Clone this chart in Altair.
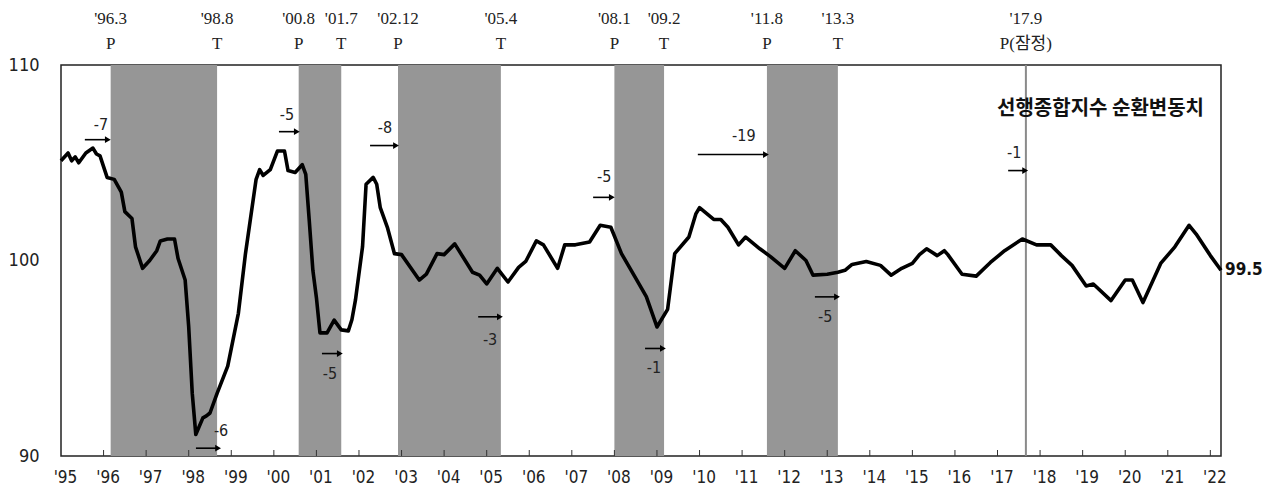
import altair as alt
import pandas as pd

# ---------------- data ----------------
dates = [
    "1995-01", "1995-03", "1995-04", "1995-05", "1995-06", "1995-08", "1995-10", "1995-11", "1995-12",
    "1996-02", "1996-04", "1996-06", "1996-07", "1996-09", "1996-10", "1996-12",
    "1997-02", "1997-04", "1997-05", "1997-07", "1997-09", "1997-10", "1997-12",
    "1998-01", "1998-02", "1998-03", "1998-05", "1998-06", "1998-07", "1998-09", "1998-12",
    "1999-03", "1999-05", "1999-08", "1999-09", "1999-10", "1999-12",
    "2000-02", "2000-04", "2000-05", "2000-07", "2000-09", "2000-10", "2000-11", "2000-12",
    "2001-01", "2001-02", "2001-04", "2001-06", "2001-08", "2001-10", "2001-11", "2001-12",
    "2002-02", "2002-03", "2002-05", "2002-06", "2002-07", "2002-09", "2002-11",
    "2003-01", "2003-06", "2003-08", "2003-11",
    "2004-01", "2004-04", "2004-09", "2004-11",
    "2005-01", "2005-04", "2005-07", "2005-10", "2005-12",
    "2006-03", "2006-05", "2006-09", "2006-11",
    "2007-02", "2007-06", "2007-09", "2007-12",
    "2008-03", "2008-07", "2008-10",
    "2009-01", "2009-04", "2009-06", "2009-10", "2009-12",
    "2010-01", "2010-05", "2010-07", "2010-09", "2010-12",
    "2011-02", "2011-06", "2011-09",
    "2012-01", "2012-04", "2012-07", "2012-09",
    "2013-01", "2013-04", "2013-06", "2013-08", "2013-12",
    "2014-04", "2014-07", "2014-10",
    "2015-01", "2015-03", "2015-05", "2015-08", "2015-10", "2015-11",
    "2016-03", "2016-07", "2016-11",
    "2017-03", "2017-08", "2017-12",
    "2018-04", "2018-07", "2018-10",
    "2019-02", "2019-04", "2019-09",
    "2020-01", "2020-03", "2020-06", "2020-11",
    "2021-03", "2021-07", "2021-09",
    "2022-01", "2022-04",
]
values = [
    105.1, 105.5, 105.1, 105.3, 105.0, 105.5, 105.75, 105.45, 105.35,
    104.25, 104.15, 103.5, 102.5, 102.15, 100.7, 99.6,
    100.0, 100.5, 101.0, 101.1, 101.1, 100.1, 99.0,
    96.6, 93.2, 91.1, 91.95, 92.05, 92.2, 93.2, 94.6,
    97.3, 100.35, 104.15, 104.65, 104.35, 104.65,
    105.6, 105.6, 104.6, 104.5, 104.9, 104.4, 102.0, 99.5,
    98.1, 96.3, 96.3, 96.95, 96.45, 96.4, 96.97, 97.97,
    100.7, 103.9, 104.25, 103.9, 102.7, 101.7, 100.35,
    100.3, 99.0, 99.3, 100.35,
    100.3, 100.85, 99.4, 99.25,
    98.8, 99.6, 98.9, 99.65, 99.95,
    101.0, 100.8, 99.6, 100.8,
    100.8, 100.95, 101.8, 101.7,
    100.35, 99.1, 98.15,
    96.6, 97.5, 100.35, 101.2, 102.4,
    102.7, 102.1, 102.1, 101.7, 100.8,
    101.2, 100.6, 100.2,
    99.6, 100.5, 100.0, 99.25,
    99.3, 99.4, 99.5, 99.8, 99.95,
    99.75, 99.25, 99.6,
    99.85, 100.3, 100.6, 100.25, 100.5, 100.3,
    99.3, 99.2, 99.9,
    100.5, 101.1, 100.8,
    100.8, 100.25, 99.75,
    98.7, 98.8, 97.95,
    99.0, 99.0, 97.85, 99.85,
    100.7, 101.8, 101.35,
    100.25, 99.5,
]

# reference cycle turning points (peak -> trough, shaded)
peaks = ["1996-03", "2000-08", "2002-12", "2008-01", "2011-08"]
troughs = ["1998-08", "2001-07", "2005-04", "2009-02", "2013-03"]
provisional_peak = "2017-09"

# labels above the plot
top_dates = ["1996-03", "1998-08", "2000-08", "2001-07", "2002-12", "2005-04",
             "2008-01", "2009-02", "2011-08", "2013-03", "2017-09"]
top_labels = ["'96.3", "'98.8", "'00.8", "'01.7", "'02.12", "'05.4",
              "'08.1", "'09.2", "'11.8", "'13.3", "'17.9"]
top_kinds = ["P", "T", "P", "T", "P", "T", "P", "T", "P", "T", "P(잠정)"]

# lead-month annotations (arrow start/end in decimal years, arrow level, label position)
lead_labels = ["-7", "-5", "-8", "-6", "-5", "-3", "-5", "-1", "-19", "-5", "-1"]
arrow_start = [1995.56, 2000.12, 2002.26, 1998.17, 2001.13, 2004.80, 2007.50, 2008.72, 2009.96, 2012.71, 2017.25]
arrow_end = [1996.10, 2000.54, 2002.87, 1998.69, 2001.55, 2005.31, 2007.94, 2009.14, 2011.56, 2013.23, 2017.65]
arrow_level = [106.18, 106.59, 105.88, 90.40, 95.24, 97.12, 103.23, 95.50, 105.42, 98.14, 104.60]
label_x = [1995.94, 2000.31, 2002.61, 1998.76, 2001.32, 2005.08, 2007.76, 2008.93, 2011.04, 2012.95, 2017.39]
label_level = [106.95, 107.46, 106.80, 91.27, 94.17, 95.95, 104.25, 94.48, 106.39, 97.12, 105.52]

title_text = "선행종합지수 순환변동치"
years = list(range(1995, 2023))


def frac(s, end=False):
    y, m = map(int, s.split("-"))
    return y + (m - 1 + (1 if end else 0)) / 12.0


# ---------------- tables ----------------
line_df = pd.DataFrame({"t": [frac(d) for d in dates], "v": values})
band_df = pd.DataFrame({"t": [frac(p) for p in peaks], "t2": [frac(t, end=True) for t in troughs]})
vline_df = pd.DataFrame({"t": [frac(provisional_peak)]})
top_df = pd.DataFrame({
    "t": [frac(d, end=(k == "T")) for d, k in zip(top_dates, top_kinds)],
    "date": top_labels,
    "kind": top_kinds,
})
arrow_df = pd.DataFrame({"t": arrow_start, "t2": arrow_end, "v": arrow_level})
lead_df = pd.DataFrame({"t": label_x, "v": label_level, "label": lead_labels})
tick_df = pd.DataFrame({"t": years[1:]})
last_df = line_df.tail(1).assign(label=lambda d: d["v"].map(lambda x: f"{x:.1f}"))

# ---------------- chart ----------------
W, H = 1160, 391
NARROW = "Liberation Sans Narrow, DejaVu Sans Condensed, sans-serif"
SERIF = "Liberation Serif, Noto Sans CJK KR, serif"
XS = alt.Scale(domain=[1995, frac(dates[-1])], nice=False, zero=False)
YS = alt.Scale(domain=[90, 110], nice=False, zero=False)

x_axis = alt.Axis(
    values=years, labelExpr="\"'\" + substring(toString(datum.value), 2, 4)",
    labelFont=NARROW, labelFontSize=17, labelColor="#222", labelPadding=13,
    labelOffset=4, labelFlush=False, labelOverlap=False,
    ticks=False, domain=False, grid=False, title=None,
)
y_axis = alt.Axis(
    values=[90, 100, 110], labelFont=NARROW, labelFontSize=18, labelColor="#222",
    labelPadding=22, ticks=False, domain=False, grid=False, title=None,
)


def X(field):
    return alt.X(field, scale=XS, axis=x_axis, title=None)


def Y(field):
    return alt.Y(field, scale=YS, axis=y_axis, title=None)


bands = alt.Chart(band_df).mark_rect(color="#969696").encode(x=X("t:Q"), x2="t2:Q")
vline = alt.Chart(vline_df).mark_rule(color="#8a8a8a", strokeWidth=2).encode(x=X("t:Q"))
ticks = alt.Chart(tick_df).mark_rule(color="#333", strokeWidth=1).encode(
    x=X("t:Q"), y=alt.value(H), y2=alt.value(H - 6)
)
line = alt.Chart(line_df).mark_line(color="black", strokeWidth=3.6, strokeJoin="round").encode(
    x=X("t:Q"), y=Y("v:Q")
)
arrows = alt.Chart(arrow_df).mark_rule(color="black", strokeWidth=1.6).encode(
    x=X("t:Q"), x2="t2:Q", y=Y("v:Q")
)
heads = alt.Chart(arrow_df).mark_point(shape="triangle-right", filled=True, size=45, color="black", opacity=1).encode(
    x=X("t2:Q"), y=Y("v:Q")
)
lead_text = alt.Chart(lead_df).mark_text(font=NARROW, fontSize=16, color="#222").encode(
    x=X("t:Q"), y=Y("v:Q"), text="label:N"
)
top_date_text = alt.Chart(top_df).mark_text(font=SERIF, fontSize=17, color="#222").encode(
    x=X("t:Q"), y=alt.value(-46), text="date:N"
)
top_kind_text = alt.Chart(top_df).mark_text(font=SERIF, fontSize=17, color="#222").encode(
    x=X("t:Q"), y=alt.value(-21), text="kind:N"
)
last_text = alt.Chart(last_df).mark_text(font=NARROW, fontSize=17, fontWeight="bold", color="#111", align="left", dx=4).encode(
    x=X("t:Q"), y=Y("v:Q"), text="label:N"
)
title = alt.Chart(pd.DataFrame({"label": [title_text]})).mark_text(
    font="Noto Sans CJK KR", fontSize=20, fontWeight="bold", color="#111", align="right"
).encode(x=alt.value(1143), y=alt.value(44), text="label:N")

chart = alt.layer(
    bands, vline, ticks, line, arrows, heads, lead_text,
    top_date_text, top_kind_text, last_text, title,
).properties(
    width=W, height=H,
    padding={"left": 53, "top": 57, "right": 45, "bottom": 32},
    autosize=alt.AutoSizeParams(type="none"),
).configure_view(stroke="#222", strokeWidth=1.5)

chart.save("out.html", embed_options={"renderer": "svg", "actions": False})
